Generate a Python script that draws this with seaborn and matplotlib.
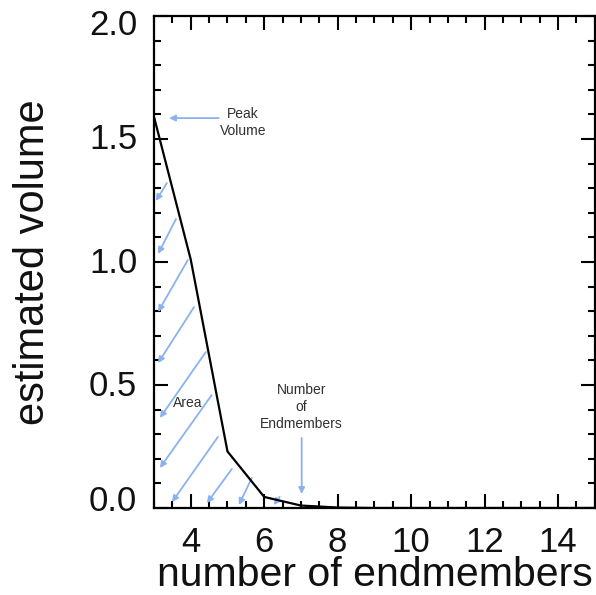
# estimated volume against number of endmembers, with annotated area under curve

import pandas as pd
import matplotlib
matplotlib.use('Agg')
import matplotlib.pyplot as plt
import matplotlib.transforms as mtrans
import seaborn as sns
from matplotlib.ticker import MultipleLocator

n_endmembers = [3, 4, 5, 6, 7, 8, 9, 10, 11, 12, 13, 14, 15]
volume = [1.59, 1.01, 0.23, 0.045, 0.01, 0.002, 0.0, 0.0, 0.0, 0.0, 0.0, 0.0, 0.0]

# hatch arrows filling the area (tail x, tail y, head x, head y)
hatch_tail_x = [3.35, 3.60, 3.92, 4.09, 4.41, 4.57, 4.74, 5.12, 5.66, 6.42]
hatch_tail_y = [1.321, 1.175, 1.008, 0.817, 0.634, 0.459, 0.289, 0.159, 0.122, 0.045]
hatch_head_x = [3.05, 3.11, 3.11, 3.11, 3.16, 3.16, 3.49, 4.44, 5.31, 6.26]
hatch_head_y = [1.248, 1.033, 0.797, 0.589, 0.366, 0.163, 0.024, 0.020, 0.012, 0.012]

xTicks = [4, 6, 8, 10, 12, 14]
yTicks = [0.0, 0.5, 1.0, 1.5, 2.0]
# vertical nudge of the y tick labels, in points (as the original draws them)
yLabelShift = [7, 1.5, 1.5, 2, -4.5]

arrowBlue = '#8ab2ee'
textGrey = '#303030'

sns.set_style('ticks')
plt.rcParams['font.family'] = ['Liberation Sans', 'DejaVu Sans']

df = pd.DataFrame({'n': n_endmembers, 'vol': volume})

fig = plt.figure(figsize=(5.96, 5.95), dpi=100)
ax = fig.add_axes([0.2584, 0.1462, 0.7396, 0.8269])

sns.lineplot(data=df, x='n', y='vol', ax=ax, color='black', linewidth=1.6, zorder=3)

ax.set_xlim(3, 15)
ax.set_ylim(0, 2.0)
ax.set_xticks(xTicks)
ax.set_yticks(yTicks)
ax.set_yticklabels([f'{v:.1f}' for v in yTicks])
ax.xaxis.set_minor_locator(MultipleLocator(0.5))
ax.yaxis.set_minor_locator(MultipleLocator(0.1))
ax.tick_params(which='both', direction='in', top=True, right=True, width=1.5, color='black')
ax.tick_params(which='major', length=10, labelsize=25, pad=13, labelcolor='#111111')
ax.tick_params(axis='y', which='major', pad=12)
ax.tick_params(which='minor', length=5)
for s in ax.spines.values():
    s.set_linewidth(1.6)
    s.set_color('black')

for lab, dy in zip(ax.get_yticklabels(), yLabelShift):
    lab.set_transform(lab.get_transform() + mtrans.ScaledTranslation(0, dy / 72, fig.dpi_scale_trans))

ax.set_xlabel('number of endmembers', fontsize=29.5, labelpad=-2, color='#111111')
ax.set_ylabel('estimated volume', fontsize=30, labelpad=26, color='#111111')

arrowProps = dict(arrowstyle='-|>', color=arrowBlue, lw=1.3, mutation_scale=9, shrinkA=0, shrinkB=0)

for tx, ty, hx, hy in zip(hatch_tail_x, hatch_tail_y, hatch_head_x, hatch_head_y):
    ax.annotate('', xy=(hx, hy), xytext=(tx, ty), arrowprops=arrowProps, zorder=2)

ax.annotate('', xy=(3.41, 1.585), xytext=(4.76, 1.585), arrowprops=arrowProps)
ax.text(5.42, 1.567, 'Peak\nVolume', fontsize=10, color=textGrey, ha='center', va='center', linespacing=1.3)

ax.text(3.92, 0.427, 'Area', fontsize=10, color=textGrey, ha='center', va='center')

ax.text(7.02, 0.41, 'Number\nof\nEndmembers', fontsize=10, color=textGrey, ha='center', va='center', linespacing=1.3)
ax.annotate('', xy=(7.02, 0.057), xytext=(7.02, 0.285), arrowprops=arrowProps)

fig.savefig('out.png', dpi=100)
